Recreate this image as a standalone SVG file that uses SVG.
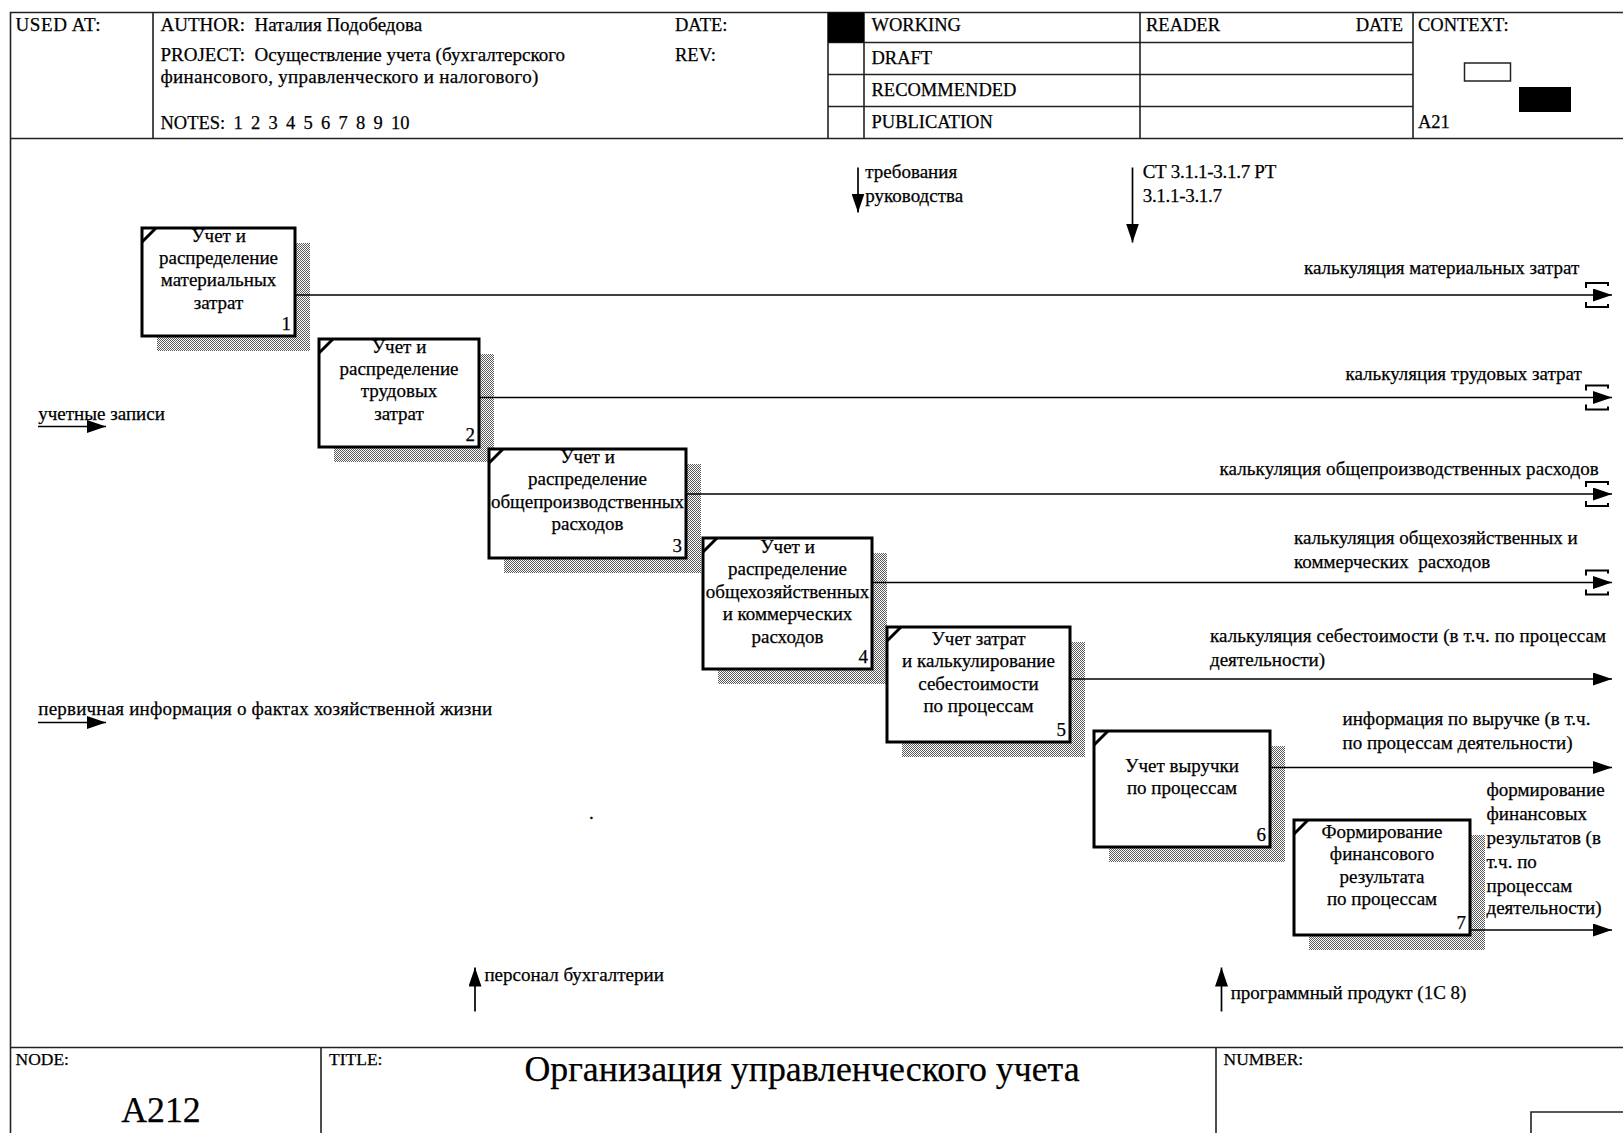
<svg xmlns="http://www.w3.org/2000/svg" width="1623" height="1133" viewBox="0 0 1623 1133">
  <style>
    text { font-family: "Liberation Serif", "Times New Roman", serif; fill: #000; stroke: #000; stroke-width: 0.25; }
    .t { font-size: 19px; }
    .h { font-size: 18.5px; }
    .hw { font-size: 19px; }
    .sm { font-size: 17.5px; }
    .big { font-size: 35.8px; }
    .frame { stroke: #222; stroke-width: 1.6; fill: none; }
    .box { fill: #fff; stroke: #000; stroke-width: 3; }
    .tick { stroke: #000; stroke-width: 3; }
    .shadow { fill: url(#dots); }
    .lbl { font-size: 19px; text-anchor: middle; }
    .num { font-size: 19px; text-anchor: end; }
    .arrow { stroke: #000; stroke-width: 1.7; fill: none; marker-end: url(#head); }
    .tunnel { stroke: #000; stroke-width: 2; fill: none; }
  </style>
  <defs>
    <pattern id="dots" width="2" height="2" patternUnits="userSpaceOnUse">
      <rect width="2" height="2" fill="#fff"/>
      <rect x="0" y="0" width="1" height="1" fill="#5a5a5a"/>
      <rect x="1" y="1" width="1" height="1" fill="#5a5a5a"/>
    </pattern>
    <marker id="head" markerUnits="userSpaceOnUse" markerWidth="19" markerHeight="13" viewBox="0 0 19 13" refX="19" refY="6.5" orient="auto">
      <path d="M0,0 L19,6.5 L0,13 z" fill="#000"/>
    </marker>
  </defs>

  <rect width="1623" height="1133" fill="#fff"/>

  <!-- form frame: header block -->
  <g id="header">
    <path class="frame" d="M10.5,1133 V12.5 H1623 M10.5,138.5 H1623"/>
    <path class="frame" d="M153,12.5 V138.5 M828,12.5 V138.5 M864,12.5 V138.5 M1140,12.5 V138.5 M1413,12.5 V138.5"/>
    <path class="frame" d="M828,42.5 H1413 M828,74.5 H1413 M828,106.5 H1413"/>
    <rect x="828" y="12.5" width="36" height="30" fill="#000"/>
    <text class="hw" x="15.5" y="31" letter-spacing="0.6">USED AT:</text>
    <text class="hw" x="160.5" y="31" xml:space="preserve">AUTHOR:  Наталия Подобедова</text>
    <text class="h" x="675" y="31">DATE:</text>
    <text class="hw" x="160.5" y="61" xml:space="preserve">PROJECT:  Осуществление учета (бухгалтерского</text>
    <text class="hw" x="160.5" y="83" letter-spacing="0.3">финансового, управленческого и налогового)</text>
    <text class="h" x="675" y="61">REV:</text>
    <text class="h" x="160.5" y="129" xml:space="preserve" word-spacing="-0.5">NOTES:  1  2  3  4  5  6  7  8  9  10</text>
    <text class="h" x="871.5" y="31">WORKING</text>
    <text class="h" x="871.5" y="63.5">DRAFT</text>
    <text class="h" x="871.5" y="95.5">RECOMMENDED</text>
    <text class="h" x="871.5" y="127.5">PUBLICATION</text>
    <text class="h" x="1146" y="31">READER</text>
    <text class="h" x="1403" y="31" text-anchor="end">DATE</text>
    <text class="h" x="1418" y="31">CONTEXT:</text>
    <rect x="1464.5" y="63" width="46" height="18" fill="#fff" stroke="#222" stroke-width="1.5"/>
    <rect x="1519" y="87" width="52" height="25" fill="#000"/>
    <text class="h" x="1418" y="127.5">A21</text>
  </g>

  <!-- form frame: footer block -->
  <g id="footer">
    <path class="frame" d="M10.5,1047.5 H1623 M321,1047.5 V1133 M1216,1047.5 V1133 M1531,1133 V1112 H1623"/>
    <text class="sm" x="15.5" y="1065">NODE:</text>
    <text class="big" x="161" y="1122" text-anchor="middle">A212</text>
    <text class="sm" x="329" y="1065">TITLE:</text>
    <text class="big" x="802" y="1081" text-anchor="middle">Организация управленческого учета</text>
    <text class="sm" x="1223.5" y="1065">NUMBER:</text>
  </g>

  <!-- activity boxes -->
  <g id="node1">
    <rect class="shadow" x="157" y="243" width="153" height="108"/>
    <rect class="box" x="142" y="228" width="153" height="108"/>
    <line class="tick" x1="142" y1="242" x2="156" y2="228"/>
    <text class="lbl" x="218.5" y="241.5">Учет и</text>
    <text class="lbl" x="218.5" y="264">распределение</text>
    <text class="lbl" x="218.5" y="286.3">материальных</text>
    <text class="lbl" x="218.5" y="308.7">затрат</text>
    <text class="num" x="291" y="329.5">1</text>
  </g>
  <g id="node2">
    <rect class="shadow" x="334" y="354" width="160" height="108"/>
    <rect class="box" x="319" y="339" width="160" height="108"/>
    <line class="tick" x1="319" y1="353" x2="333" y2="339"/>
    <text class="lbl" x="399" y="352.5">Учет и</text>
    <text class="lbl" x="399" y="374.9">распределение</text>
    <text class="lbl" x="399" y="397.3">трудовых</text>
    <text class="lbl" x="399" y="419.7">затрат</text>
    <text class="num" x="475" y="440.5">2</text>
  </g>
  <g id="node3">
    <rect class="shadow" x="504" y="464" width="197" height="109"/>
    <rect class="box" x="489" y="449" width="197" height="109"/>
    <line class="tick" x1="489" y1="463" x2="503" y2="449"/>
    <text class="lbl" x="587.5" y="463">Учет и</text>
    <text class="lbl" x="587.5" y="485.4">распределение</text>
    <text class="lbl" x="587.5" y="507.8">общепроизводственных</text>
    <text class="lbl" x="587.5" y="530.2">расходов</text>
    <text class="num" x="682" y="551.5">3</text>
  </g>
  <g id="node4">
    <rect class="shadow" x="718" y="553" width="169" height="131"/>
    <rect class="box" x="703" y="538" width="169" height="131"/>
    <line class="tick" x1="703" y1="552" x2="717" y2="538"/>
    <text class="lbl" x="787.5" y="553">Учет и</text>
    <text class="lbl" x="787.5" y="575.4">распределение</text>
    <text class="lbl" x="787.5" y="597.8">общехозяйственных</text>
    <text class="lbl" x="787.5" y="620.2">и коммерческих</text>
    <text class="lbl" x="787.5" y="642.6">расходов</text>
    <text class="num" x="868" y="662.5">4</text>
  </g>
  <g id="node5">
    <rect class="shadow" x="902" y="642" width="183" height="115"/>
    <rect class="box" x="887" y="627" width="183" height="115"/>
    <line class="tick" x1="887" y1="641" x2="901" y2="627"/>
    <text class="lbl" x="978.5" y="645">Учет затрат</text>
    <text class="lbl" x="978.5" y="667.4">и калькулирование</text>
    <text class="lbl" x="978.5" y="689.8">себестоимости</text>
    <text class="lbl" x="978.5" y="712.2">по процессам</text>
    <text class="num" x="1066" y="735.5">5</text>
  </g>
  <g id="node6">
    <rect class="shadow" x="1109" y="746" width="176" height="116"/>
    <rect class="box" x="1094" y="731" width="176" height="116"/>
    <line class="tick" x1="1094" y1="745" x2="1108" y2="731"/>
    <text class="lbl" x="1182" y="771.5">Учет выручки</text>
    <text class="lbl" x="1182" y="793.9">по процессам</text>
    <text class="num" x="1266" y="840.5">6</text>
  </g>
  <g id="node7">
    <rect class="shadow" x="1309" y="835" width="176" height="115"/>
    <rect class="box" x="1294" y="820" width="176" height="115"/>
    <line class="tick" x1="1294" y1="834" x2="1308" y2="820"/>
    <text class="lbl" x="1382" y="837.7">Формирование</text>
    <text class="lbl" x="1382" y="860.1">финансового</text>
    <text class="lbl" x="1382" y="882.5">результата</text>
    <text class="lbl" x="1382" y="904.9">по процессам</text>
    <text class="num" x="1466" y="928.5">7</text>
  </g>

  <!-- arrows and their labels -->
  <g id="connectors">
    <!-- outputs -->
    <path class="arrow" d="M295,295 H1612"/>
    <path class="tunnel" d="M1586,288 V283 H1608 V286 M1586,302 V307 H1608 V304"/>
    <text class="t" x="1304" y="273.5">калькуляция материальных затрат</text>

    <path class="arrow" d="M479,397.5 H1612"/>
    <path class="tunnel" d="M1586,390.5 V385.5 H1608 V388.5 M1586,404.5 V409.5 H1608 V406.5"/>
    <text class="t" x="1345.5" y="380">калькуляция трудовых затрат</text>

    <path class="arrow" d="M686,494 H1612"/>
    <path class="tunnel" d="M1586,487 V482 H1608 V485 M1586,501 V506 H1608 V503"/>
    <text class="t" x="1219.5" y="474.5" letter-spacing="0.1">калькуляция общепроизводственных расходов</text>

    <path class="arrow" d="M872,582.5 H1612"/>
    <path class="tunnel" d="M1586,575.5 V570.5 H1608 V573.5 M1586,589.5 V594.5 H1608 V591.5"/>
    <text class="t" x="1294" y="543.5">калькуляция общехозяйственных и</text>
    <text class="t" x="1294" y="567.5" xml:space="preserve">коммерческих  расходов</text>

    <path class="arrow" d="M1070,679 H1612"/>
    <text class="t" x="1210" y="642" letter-spacing="0.1">калькуляция себестоимости (в т.ч. по процессам</text>
    <text class="t" x="1210" y="666">деятельности)</text>

    <path class="arrow" d="M1270,767.5 H1612"/>
    <text class="t" x="1342.5" y="725">информация по выручке (в т.ч.</text>
    <text class="t" x="1342.5" y="748.7">по процессам деятельности)</text>

    <path class="arrow" d="M1470,930 H1612"/>
    <text class="t" x="1486.5" y="796.3">формирование</text>
    <text class="t" x="1486.5" y="820">финансовых</text>
    <text class="t" x="1486.5" y="844">результатов (в</text>
    <text class="t" x="1486.5" y="867.7">т.ч. по</text>
    <text class="t" x="1486.5" y="891.5">процессам</text>
    <text class="t" x="1486.5" y="914.3">деятельности)</text>

    <!-- inputs -->
    <path class="arrow" d="M38,426.5 H106"/>
    <text class="t" x="38.3" y="419.5">учетные записи</text>
    <path class="arrow" d="M38,722.5 H106"/>
    <text class="t" x="38.3" y="714.5" letter-spacing="0.2">первичная информация о фактах хозяйственной жизни</text>

    <!-- controls -->
    <path class="arrow" d="M858,167.5 V212.5"/>
    <text class="t" x="865.3" y="178.4">требования</text>
    <text class="t" x="865.3" y="202.2">руководства</text>
    <path class="arrow" d="M1132.5,167.5 V242.5"/>
    <text class="t" x="1142.7" y="178.4" letter-spacing="-0.3">СТ 3.1.1-3.1.7 РТ</text>
    <text class="t" x="1142.7" y="202.2" letter-spacing="-0.3">3.1.1-3.1.7</text>

    <!-- mechanisms -->
    <path class="arrow" d="M475,1011.5 V967.5"/>
    <text class="t" x="484.4" y="980.5">персонал бухгалтерии</text>
    <path class="arrow" d="M1221.5,1011.5 V967.5"/>
    <text class="t" x="1230.7" y="999.2">программный продукт (1С 8)</text>

    <text class="t" x="589" y="819">.</text>
  </g>
</svg>
